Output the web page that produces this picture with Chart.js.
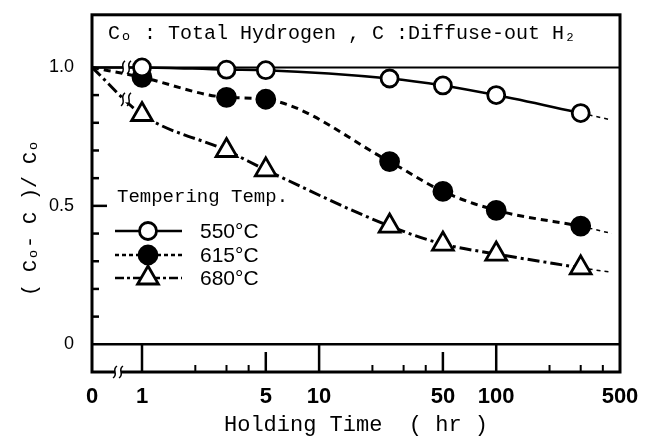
<!DOCTYPE html>
<html><head><meta charset="utf-8">
<script src="https://cdn.jsdelivr.net/npm/chart.js@4"></script>
<style>html,body{margin:0;padding:0;background:#fff;overflow:hidden}</style>
</head><body>
<canvas id="c" width="660" height="443"></canvas>
<script>
// ---- data ----
const times = [0, 1, 3, 5, 25, 50, 100, 300];
const seriesLabels = ['550°C', '615°C', '680°C'];
const s550 = [1.0, 1.0, 0.992, 0.99, 0.96, 0.935, 0.90, 0.835];
const s615 = [1.0, 0.964, 0.892, 0.885, 0.66, 0.552, 0.484, 0.427];
const s680 = [1.0, 0.83, 0.70, 0.63, 0.427, 0.362, 0.326, 0.276];
const extTimes = [300, 450];
const ext550 = [0.835, 0.81];
const ext615 = [0.427, 0.40];
const ext680 = [0.276, 0.26];
const xTickValues = [0, 1, 5, 10, 50, 100, 500];
const xTickLabels = ['0', '1', '5', '10', '50', '100', '500'];
const xMajorTicks = [1, 10, 100];
const xMidTicks = [5, 50];
const xMinorTicks = [2, 3, 4, 20, 30, 40, 200, 300, 400];
const yTickValues = [0, 0.5, 1];
const yTickLabels = ['0', '0.5', '1.0'];
const yMinorTicks = [0.1, 0.2, 0.3, 0.4, 0.5, 0.6, 0.7, 0.8, 0.9];
const headerText = 'Cₒ : Total Hydrogen , C :Diffuse-out H₂';
const xTitle = 'Holding Time  ( hr )';
const yTitle = '( Cₒ- C )/ Cₒ';
const legendTitle = 'Tempering Temp.';

// ---- scale setup (time 0 sits at the broken axis start) ----
const X_MIN = 0.522, X_MAX = 500;
const Y_MIN = -0.1, Y_MAX = 1.19;
const mapX = t => (t === 0 ? X_MIN : t);

const styles = [
  { dash: [], width: 2.5, ps: 'circle', fill: '#fff', r: 8.5, ldash: [] },
  { dash: [7, 5], width: 3, ps: 'circle', fill: '#000', r: 9, ldash: [4, 3] },
  { dash: [12, 4, 3, 4], width: 3, ps: 'triangle', fill: '#fff', r: 12, ldash: [9, 3, 3, 3] }
];
const series = [s550, s615, s680];
const exts = [ext550, ext615, ext680];

const datasets = series.map((s, i) => ({
  label: seriesLabels[i],
  data: times.map((t, j) => ({ x: mapX(t), y: s[j] })),
  borderColor: '#000',
  borderWidth: styles[i].width,
  borderDash: styles[i].dash,
  pointStyle: styles[i].ps,
  pointBackgroundColor: styles[i].fill,
  pointBorderColor: '#000',
  pointBorderWidth: 2.8,
  pointRadius: ctx => (ctx.dataIndex === 0 ? 0 : styles[i].r),
  pointHoverRadius: ctx => (ctx.dataIndex === 0 ? 0 : styles[i].r),
  cubicInterpolationMode: 'monotone',
  fill: false,
  order: 1
}));
exts.forEach((e, i) => datasets.push({
  label: '',
  data: extTimes.map((t, j) => ({ x: t, y: e[j] })),
  borderColor: '#000',
  borderWidth: 1.5,
  borderDash: [4, 4],
  pointRadius: 0,
  fill: false,
  order: 2
}));

function breakMark(ctx, x, y, h, gapH) {
  ctx.save();
  ctx.fillStyle = '#fff';
  ctx.fillRect(x - 3, y - gapH / 2, 6, gapH);
  ctx.strokeStyle = '#000';
  ctx.lineWidth = 1.5;
  ctx.setLineDash([]);
  for (const dx of [-3, 3]) {
    ctx.beginPath();
    ctx.moveTo(x + dx - 2, y + h / 2);
    ctx.bezierCurveTo(x + dx + 4, y + 2, x + dx - 4, y - 2, x + dx + 2, y - h / 2);
    ctx.stroke();
  }
  ctx.restore();
}

const framePlugin = {
  id: 'frame',
  beforeDatasetsDraw(chart) {
    const { ctx, chartArea: a, scales: { x, y } } = chart;
    ctx.save();
    ctx.strokeStyle = '#000';
    ctx.setLineDash([]);
    ctx.lineWidth = 3;
    ctx.strokeRect(a.left, a.top, a.right - a.left, a.bottom - a.top);
    ctx.lineWidth = 2;
    ctx.beginPath(); ctx.moveTo(a.left, y.getPixelForValue(1)); ctx.lineTo(a.right, y.getPixelForValue(1)); ctx.stroke();
    ctx.lineWidth = 2.5;
    const y0 = y.getPixelForValue(0);
    ctx.beginPath(); ctx.moveTo(a.left, y0); ctx.lineTo(a.right, y0); ctx.stroke();
    // y ticks
    yMinorTicks.forEach(v => {
      const py = y.getPixelForValue(v);
      const len = Math.abs(v - 0.5) < 1e-9 ? 15 : 7;
      ctx.beginPath(); ctx.moveTo(a.left, py); ctx.lineTo(a.left + len, py); ctx.stroke();
    });
    // x ticks
    ctx.lineWidth = 2.5;
    xMajorTicks.forEach(v => { const px = x.getPixelForValue(v); ctx.beginPath(); ctx.moveTo(px, a.bottom); ctx.lineTo(px, y0); ctx.stroke(); });
    xMidTicks.forEach(v => { const px = x.getPixelForValue(v); ctx.beginPath(); ctx.moveTo(px, a.bottom); ctx.lineTo(px, a.bottom - 20); ctx.stroke(); });
    ctx.lineWidth = 2;
    xMinorTicks.forEach(v => { const px = x.getPixelForValue(v); ctx.beginPath(); ctx.moveTo(px, a.bottom); ctx.lineTo(px, a.bottom - 7); ctx.stroke(); });
    ctx.restore();
    // bottom axis break
    const bx = x.getPixelForValue(X_MIN) + 0.52 * (x.getPixelForValue(1) - x.getPixelForValue(X_MIN));
    breakMark(ctx, bx, a.bottom, 12, 5);
  },
  afterDatasetsDraw(chart) {
    const { ctx } = chart;
    [0, 2].forEach(i => {
      const pts = chart.getDatasetMeta(i).data;
      const p0 = pts[0], p1 = pts[1];
      const f = 0.68;
      breakMark(ctx, p0.x + f * (p1.x - p0.x), p0.y + f * (p1.y - p0.y), 13, 6);
    });
  },
  afterDraw(chart) {
    const { ctx } = chart;
    ctx.save();
    ctx.fillStyle = '#000';
    ctx.textBaseline = 'middle';
    ctx.textAlign = 'left';
    ctx.font = '20px "Liberation Mono", monospace';
    ctx.fillText(headerText, 108, 34);
    // y title
    ctx.save();
    ctx.translate(31, 218);
    ctx.rotate(-Math.PI / 2);
    ctx.textAlign = 'center';
    ctx.font = '20px "Liberation Mono", monospace';
    ctx.fillText(yTitle, 0, 0);
    ctx.restore();
    // legend
    ctx.font = '19px "Liberation Mono", monospace';
    ctx.fillText(legendTitle, 117, 197);
    const rows = [231, 255, 278];
    seriesLabels.forEach((lab, i) => {
      const st = styles[i];
      const yy = rows[i];
      ctx.strokeStyle = '#000';
      ctx.lineWidth = 2.5;
      ctx.setLineDash(st.ldash);
      ctx.beginPath(); ctx.moveTo(115, yy); ctx.lineTo(182, yy); ctx.stroke();
      ctx.setLineDash([]);
      ctx.fillStyle = st.fill;
      ctx.strokeStyle = '#000';
      ctx.lineWidth = 2.8;
      Chart.helpers.drawPoint(ctx, { pointStyle: st.ps, radius: st.r, borderWidth: 2.8, rotation: 0 }, 148, yy);
      ctx.fillStyle = '#000';
      ctx.font = '21px "Liberation Sans", sans-serif';
      ctx.fillText(lab, 200, yy + 1);
    });
    ctx.restore();
  }
};

new Chart(document.getElementById('c'), {
  type: 'line',
  data: { datasets },
  options: {
    responsive: false,
    devicePixelRatio: 1,
    animation: false,
    events: [],
    layout: { padding: { left: 0, top: 10, right: 40, bottom: 0 } },
    plugins: { legend: { display: false }, tooltip: { enabled: false } },
    scales: {
      x: {
        type: 'logarithmic',
        min: X_MIN, max: X_MAX,
        grid: { display: false }, border: { display: false },
        afterFit: s => { s.height = 71; s.paddingLeft = 0; s.paddingRight = 0; },
        afterBuildTicks: s => { s.ticks = xTickValues.map(v => ({ value: mapX(v) })); },
        ticks: {
          autoSkip: false, maxRotation: 0, padding: 4, color: '#000',
          font: { family: 'Liberation Sans', size: 22, weight: 'bold' },
          callback: (v, i) => xTickLabels[i]
        },
        title: { display: true, text: xTitle, color: '#000', font: { family: 'Liberation Mono', size: 22 }, padding: { top: 0, bottom: 5 } }
      },
      y: {
        type: 'linear',
        min: Y_MIN, max: Y_MAX,
        grid: { display: false }, border: { display: false },
        afterFit: s => { s.width = 92; s.paddingTop = 0; s.paddingBottom = 0; },
        afterBuildTicks: s => { s.ticks = yTickValues.map(v => ({ value: v })); },
        ticks: {
          padding: 10, color: '#000',
          font: { family: 'Liberation Sans', size: 18 },
          callback: (v, i) => yTickLabels[i]
        }
      }
    }
  },
  plugins: [framePlugin]
});
</script>
</body></html>
